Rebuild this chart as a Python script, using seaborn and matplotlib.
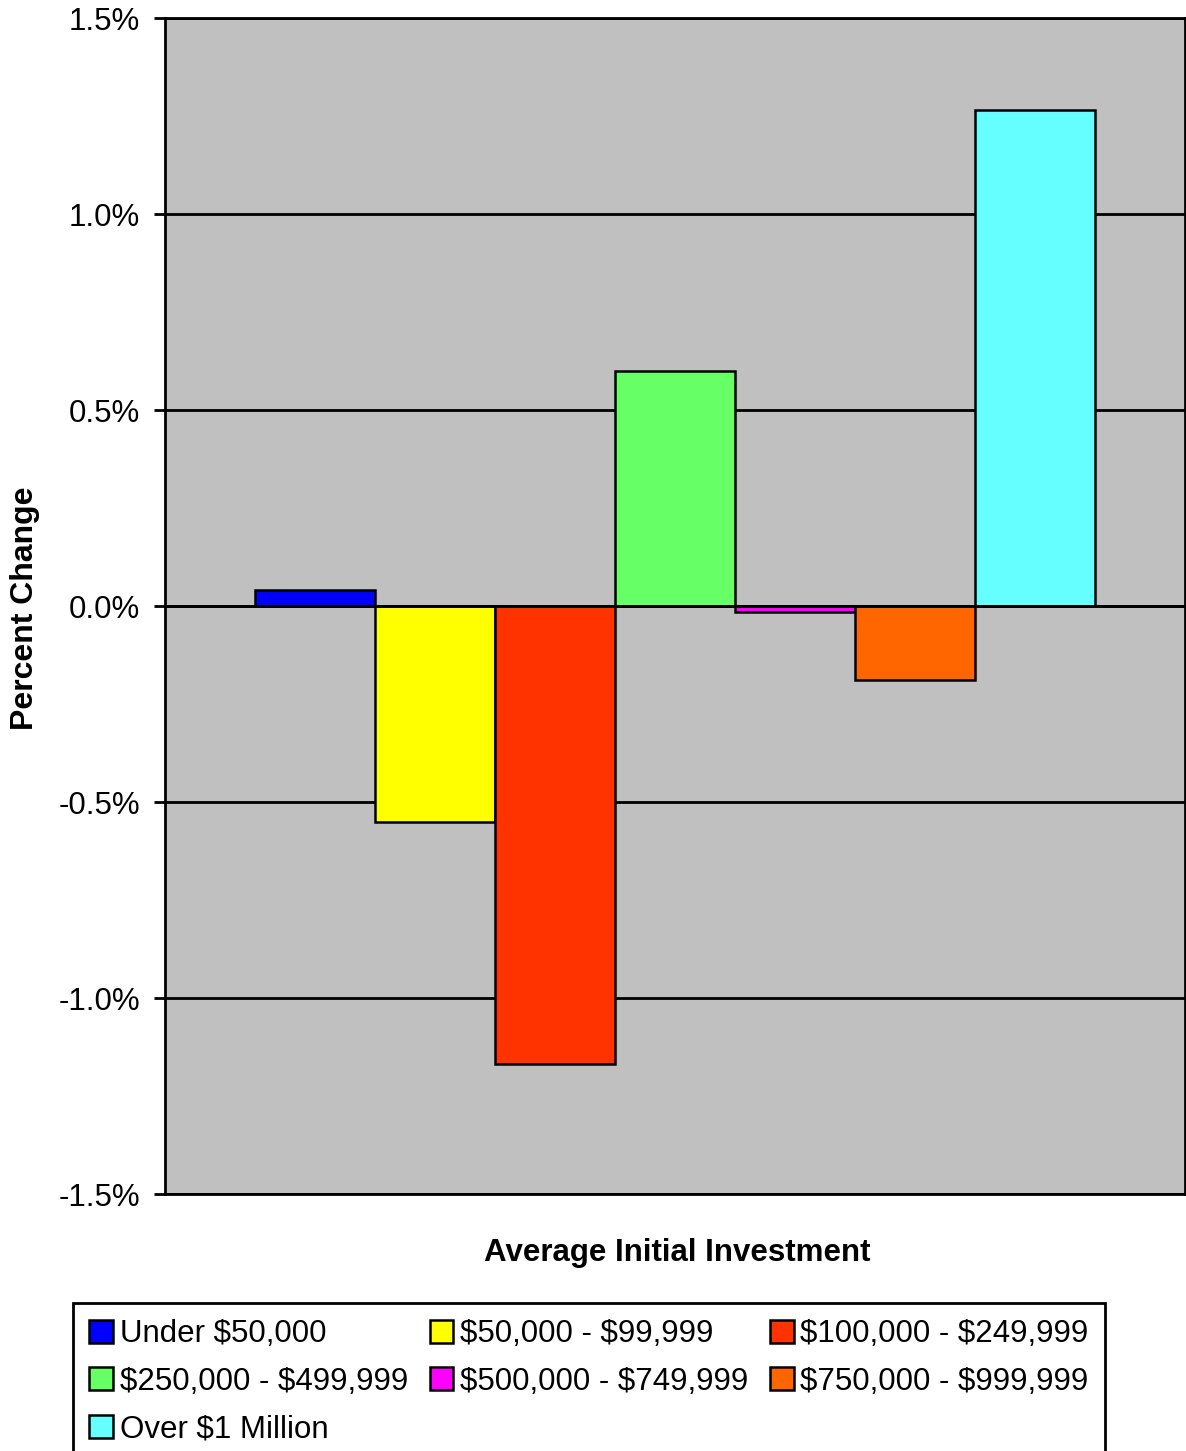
import matplotlib
matplotlib.use("Agg")
import matplotlib.pyplot as plt
import seaborn as sns
import pandas as pd

# Data (percent change)
categories = ['Under $50,000', '$50,000 - $99,999', '$100,000 - $249,999',
              '$250,000 - $499,999', '$500,000 - $749,999', '$750,000 - $999,999',
              'Over $1 Million']
values = [0.042, -0.55, -1.168, 0.60, -0.015, -0.19, 1.265]
colors = ['#0000FF', '#FFFF00', '#FF3300', '#66FF66', '#FF00FF', '#FF6600', '#66FFFF']
yticks = [-1.5, -1.0, -0.5, 0.0, 0.5, 1.0, 1.5]

df = pd.DataFrame({'group': categories, 'change': values})

sns.set_style('white')
plt.rcParams['font.family'] = ['Liberation Sans', 'DejaVu Sans']
plt.rcParams['text.parse_math'] = False
plt.rcParams['text.color'] = 'black'
plt.rcParams['ytick.color'] = 'black'
plt.rcParams['ytick.labelcolor'] = 'black'

fig = plt.figure(figsize=(11.86, 14.51), dpi=100)
ax = fig.add_axes([165 / 1186, 1 - 1194 / 1451, 1020 / 1186, 1176 / 1451])
ax.set_facecolor('#C0C0C0')

sns.barplot(data=df, x='group', y='change', hue='group', palette=colors,
            saturation=1, width=1.0, edgecolor='black', linewidth=1.8,
            legend=True, ax=ax, zorder=3)

for y in yticks:
    ax.axhline(y, color='black', linewidth=2, zorder=2)
ax.axhline(0, color='black', linewidth=2, zorder=4)

ax.set_xlim(-1.25, 7.25)
ax.set_ylim(-1.5, 1.5)
ax.set_yticks(yticks)
ax.set_yticklabels([f'{v:.1f}%' for v in yticks], fontsize=22.5, color='black')
ax.set_xticks([])
ax.tick_params(axis='y', direction='out', length=8, width=2, color='black', pad=10, left=True)
for side in ['left', 'top', 'bottom', 'right']:
    ax.spines[side].set_visible(True)
    ax.spines[side].set_color('black')
    ax.spines[side].set_linewidth(2)

ax.set_xlabel('')
ax.set_ylabel('')
fig.text(25 / 1186, 1 - 608 / 1451, 'Percent Change', rotation=90, fontsize=23,
         fontweight='bold', ha='center', va='center', color='black')
fig.text(677 / 1186, 1 - 1253 / 1451, 'Average Initial Investment', fontsize=22.5,
         fontweight='bold', ha='center', va='center', color='black')

handles, labels = ax.get_legend_handles_labels()
ax.get_legend().remove()
# row-wise order as in the reference legend
order = [0, 3, 6, 1, 4, 2, 5]
leg = fig.legend([handles[i] for i in order], [labels[i] for i in order],
                 loc='upper left', ncol=3,
                 bbox_to_anchor=(73 / 1186, 1 - 1303 / 1451),
                 fontsize=22.5, frameon=True, fancybox=False, edgecolor='black',
                 framealpha=1, labelcolor='black',
                 handlelength=0.75, handleheight=0.75, handletextpad=0.22,
                 columnspacing=0.7, labelspacing=0.56, borderpad=0.52,
                 borderaxespad=0)
leg.get_frame().set_linewidth(2)

fig.savefig('out.png', dpi=100)
